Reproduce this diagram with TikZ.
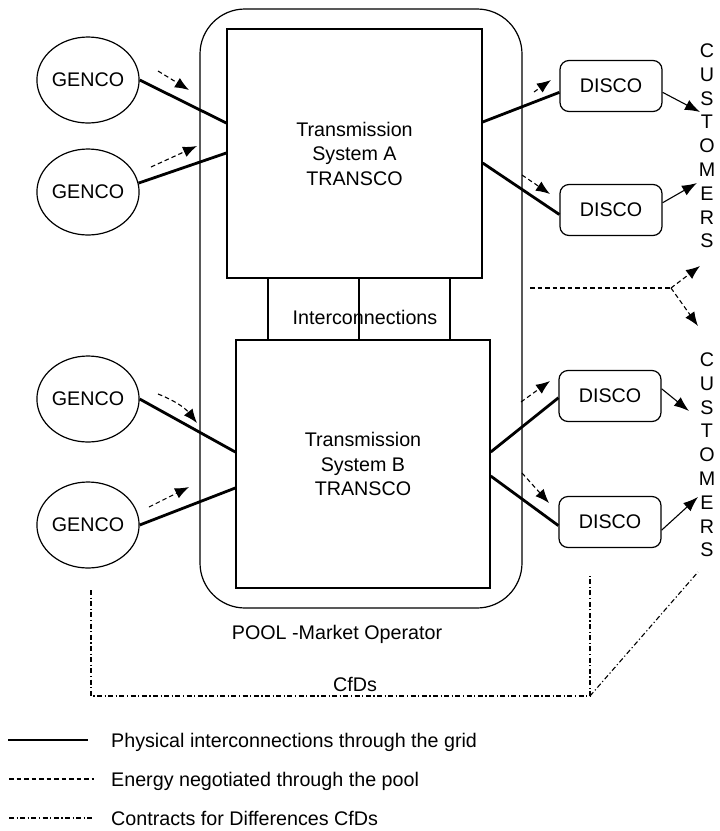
\documentclass[tikz,border=0pt]{standalone}
\usepackage{fontspec}
\setmainfont{Liberation Sans}
\usetikzlibrary{arrows.meta,shapes.geometric,calc}
\begin{document}
\begin{tikzpicture}[x=1pt,y=-1pt,
  every node/.style={font=\fontsize{19.7pt}{24pt}\selectfont, inner sep=0pt},
  phys/.style={line width=2.8pt},
  energy/.style={line width=1.1pt, dash pattern=on 4.5pt off 3pt, -{Latex[length=14pt,width=11pt]}},
  energyline/.style={line width=1.1pt, dash pattern=on 4.5pt off 3pt},
  cfd/.style={line width=1.1pt, dash pattern=on 5pt off 2.5pt on 1.2pt off 2.5pt},
  genco/.style={draw, ellipse, line width=1.2pt, minimum width=98pt, minimum height=86pt},
  disco/.style={draw, rectangle, rounded corners=9pt, line width=1.2pt, minimum width=102pt, minimum height=51pt},
  transbox/.style={draw, rectangle, line width=1.4pt, align=center, font=\fontsize{19.7pt}{24.5pt}\selectfont},
  custarrow/.style={line width=1.1pt, -{Latex[length=15pt,width=11pt]}},
  custtext/.style={align=center, font=\fontsize{19.7pt}{23.8pt}\selectfont},
]
\useasboundingbox (0,0) rectangle (720,831);

% pool
\node[draw, line width=1.2pt, rounded corners=45pt, minimum width=322pt, minimum height=599pt] (pool) at (361,308.5) {};
\node[anchor=base] (poollabel) at (337,639) {POOL -Market Operator};

% transmission systems
\node[transbox, minimum width=255pt, minimum height=249pt] (boxA) at (354.5,153.5) {Transmission\\System A\\TRANSCO};
\node[transbox, minimum width=254pt, minimum height=248pt] (boxB) at (363,464) {Transmission\\System B\\TRANSCO};

% interconnections
\coordinate (ix1) at (268,300);
\coordinate (ix2) at (359,300);
\coordinate (ix3) at (450,300);
\draw[line width=2pt] (ix1 |- boxA.south) -- (ix1 |- boxB.north);
\draw[line width=2pt] (ix2 |- boxA.south) -- (ix2 |- boxB.north);
\draw[line width=2pt] (ix3 |- boxA.south) -- (ix3 |- boxB.north);
\node (inter) at (365,317) {Interconnections};

% GENCOs
\node[genco] (g1) at (88,80) {GENCO};
\node[genco] (g2) at (88,192) {GENCO};
\node[genco] (g3) at (88,399) {GENCO};
\node[genco] (g4) at (88,525) {GENCO};

% DISCOs
\node[disco] (d1) at (611,86) {DISCO};
\node[disco] (d2) at (611,210) {DISCO};
\node[disco] (d3) at (610,396) {DISCO};
\node[disco] (d4) at (610,522) {DISCO};

% customers
\node[custtext] (cust1) at (707,146) {C\\U\\S\\T\\O\\M\\E\\R\\S};
\node[custtext] (cust2) at (707,455) {C\\U\\S\\T\\O\\M\\E\\R\\S};

% physical lines
\draw[phys] (g1.east) -- ([yshift=30.5pt]boxA.west);
\draw[phys] (g2.10) -- ([yshift=0.5pt]boxA.west);
\draw[phys] (g3.east) -- ([yshift=12pt]boxB.west);
\draw[phys] (g4.east) -- ([yshift=-24pt]boxB.west);
\draw[phys] ([yshift=31.5pt]boxA.east) -- (d1.187);
\draw[phys] ([yshift=-9.5pt]boxA.east) -- (d2.185);
\draw[phys] ([yshift=12pt]boxB.east) -- (d3.182);
\draw[phys] ([yshift=-12pt]boxB.east) -- (d4.184);

% customer arrows
\coordinate (c1) at (700,112);
\coordinate (c2) at (697,183);
\coordinate (c3) at (689,411);
\coordinate (c4) at (698,497);
\draw[custarrow] (d1.-7) -- (c1);
\draw[custarrow] (d2.8) -- (c2);
\draw[custarrow] (d3.8) -- (c3);
\draw[custarrow] (d4.-9) -- (c4);

% energy arrows
\coordinate (e1s) at (158,71);  \coordinate (e1t) at (189,90);
\coordinate (e2s) at (151,167); \coordinate (e2t) at (197,146);
\coordinate (e3s) at (158,394); \coordinate (e3t) at (197,423);
\coordinate (e4s) at (149,507); \coordinate (e4t) at (189,487);
\coordinate (e5s) at (534,92);  \coordinate (e5t) at (551,80);
\coordinate (e6s) at (522,175); \coordinate (e6t) at (550,194);
\coordinate (e7s) at (521,402); \coordinate (e7t) at (550,381);
\coordinate (e8s) at (522,473); \coordinate (e8t) at (549,503);
\draw[energy] (e1s) -- (e1t);
\draw[energy] (e2s) -- (e2t);
\draw[energy] (e3s) to[bend left=15] (e3t);
\draw[energy] (e4s) -- (e4t);
\draw[energy] (e5s) -- (e5t);
\draw[energy] (e6s) -- (e6t);
\draw[energy] (e7s) -- (e7t);
\draw[energy] (e8s) -- (e8t);

% fork
\coordinate (fk0) at (530,288);
\coordinate (fk) at (671,288);
\coordinate (fk1) at (700,266);
\coordinate (fk2) at (698,326);
\draw[energyline] (fk0) -- (fk);
\draw[energy] (fk) -- (fk1);
\draw[energy] (fk) -- (fk2);

% CfDs
\coordinate (cf1) at (91,590);
\coordinate (cf2) at (91,696);
\coordinate (cf3) at (590,696);
\coordinate (cf4) at (590,574);
\coordinate (cf5) at (698,572);
\draw[cfd] (cf1) -- (cf2) -- (cf3) -- (cf4);
\draw[cfd] (cf3) -- (cf5);
\node[anchor=base] (cfdlabel) at (355,691) {CfDs};

% legend
\coordinate (l1a) at (8,740);  \coordinate (l1b) at (88,740);
\coordinate (l2a) at (9,779);  \coordinate (l2b) at (94,779);
\coordinate (l3a) at (9,818);  \coordinate (l3b) at (94,818);
\draw[line width=2.5pt] (l1a) -- (l1b);
\draw[energyline] (l2a) -- (l2b);
\draw[cfd] (l3a) -- (l3b);
\node[anchor=base west] (leg1) at (111,747) {Physical interconnections through the grid};
\node[anchor=base west] (leg2) at (111,786) {Energy negotiated through the pool};
\node[anchor=base west] (leg3) at (111,825) {Contracts for Differences CfDs};
\end{tikzpicture}
\end{document}
